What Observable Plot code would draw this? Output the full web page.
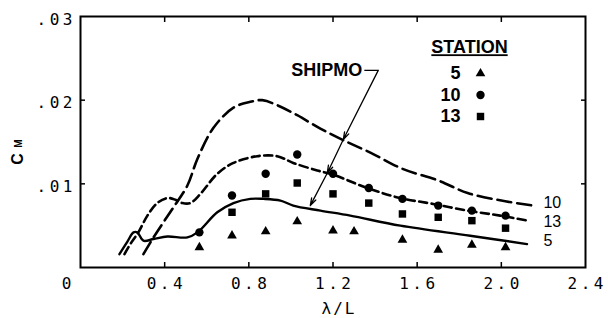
<!DOCTYPE html>
<html><head><meta charset="utf-8">
<script src="https://cdn.jsdelivr.net/npm/d3@7"></script>
<script src="https://cdn.jsdelivr.net/npm/@observablehq/plot@0.6"></script>
<style>
html,body{margin:0;padding:0;background:#fff}
#chart svg{display:block}
</style></head><body><div id="chart"></div>
<script>
// Computed (SHIPMO) curves, one per station
const lam10 = [0.299,0.347,0.394,0.442,0.508,0.556,0.632,0.727,0.807,0.864,0.935,1.03,1.14,1.25,1.38,1.53,1.70,1.84,2.00,2.15];
const cm10  = [0.0016,0.0036,0.0054,0.0072,0.0098,0.0130,0.0167,0.0191,0.0198,0.0200,0.0194,0.0182,0.0166,0.0152,0.0137,0.0118,0.0104,0.0089,0.0080,0.0074];
const lam13 = [0.209,0.242,0.275,0.318,0.365,0.413,0.451,0.484,0.522,0.570,0.650,0.727,0.840,0.935,1.011,1.125,1.20,1.363,1.52,1.676,1.838,1.994,2.127];
const cm13  = [0.0016,0.0030,0.0042,0.0062,0.0077,0.0083,0.0081,0.0077,0.0077,0.0088,0.0112,0.0125,0.0133,0.0133,0.0125,0.0116,0.0111,0.0095,0.0083,0.0076,0.0068,0.0062,0.0056];
const lam5  = [0.185,0.223,0.252,0.27,0.299,0.347,0.413,0.508,0.556,0.650,0.727,0.807,0.869,0.950,1.011,1.14,1.282,1.52,1.852,2.122];
const cm5   = [0.0016,0.0031,0.0042,0.0042,0.0032,0.0034,0.0037,0.0036,0.0042,0.0066,0.0077,0.0082,0.0082,0.0080,0.0074,0.0068,0.0062,0.0050,0.0038,0.0028];

// Measured points
const lamTri = [0.565,0.72,0.88,1.03,1.20,1.30,1.53,1.70,1.86,2.02];
const cmTri  = [0.0024,0.0038,0.0043,0.0055,0.0044,0.0043,0.0033,0.0021,0.0027,0.0024];
const lamCir = [0.565,0.72,0.88,1.03,1.20,1.37,1.53,1.70,1.86,2.02];
const cmCir  = [0.0042,0.0086,0.0112,0.0135,0.0112,0.0095,0.0082,0.0074,0.0068,0.0062];
const lamSq  = [0.72,0.88,1.03,1.20,1.37,1.53,1.70,1.86,2.02];
const cmSq   = [0.0066,0.0088,0.0101,0.0088,0.0077,0.0064,0.0060,0.0056,0.0047];

// Ticks
const xTickMarks = [0.4,0.8,1.2,1.6,2.0];
const xTickLabels = [0.4,0.8,1.2,1.6,2.0,2.4];
const yTickMarks = [0.01,0.02];
const yTickLabels = [0.01,0.02,0.03];

// Legend / labels
const legendStations = ["5","10","13"];
const legendSymbols = ["triangle","circle","square"];
const curveLabels = ["10","13","5"];
const curveLabelLam = 2.2;
const curveLabelCm = [cm10[cm10.length-1], cm13[cm13.length-1], cm5[cm5.length-1]];
const curveLabelNudge = [-3, 1, -3];

// SHIPMO annotation (data units)
const shipmoLam = [1.349, 1.415];
const shipmoCm = 0.02356;
const arrowLam = [1.415, 1.249, 1.173, 1.092];
const arrowCm  = [0.02356, 0.0153, 0.0113, 0.0074];

const pts = (L, C) => L.map((l, i) => ({lam: l, cm: C[i]}));
const c10 = pts(lam10, cm10), c13 = pts(lam13, cm13), c5 = pts(lam5, cm5);
const tri = pts(lamTri, cmTri), cir = pts(lamCir, cmCir), sq = pts(lamSq, cmSq);
const arrows = arrowLam.slice(0, -1).map((l, i) => ({x1: l, y1: arrowCm[i], x2: arrowLam[i+1], y2: arrowCm[i+1]}));

const mono = "DejaVu Sans Mono";
const sans = "Liberation Sans";
const LS = 3.5;
const yFmt = d => d3.format(".2f")(d).replace(/^0/, "");

const legendMarks = legendStations.flatMap((s, i) => [
  Plot.text([s], {text: d => d, frameAnchor: "top-left", dx: 380, dy: 57 + i * 21.5, textAnchor: "end", lineAnchor: "middle", fontFamily: sans, fontWeight: "bold", fontSize: 18}),
  Plot.dot([s], {frameAnchor: "top-left", dx: 400, dy: 57 + i * 21.5, symbol: legendSymbols[i], fill: "#000", stroke: "none", r: legendSymbols[i] === "triangle" ? 3.6 : 4.2})
]);

const curveLabelMarks = curveLabels.map((t, i) =>
  Plot.text([t], {text: d => d, x: curveLabelLam, y: curveLabelCm[i], dy: curveLabelNudge[i], textAnchor: "start", lineAnchor: "middle", fontFamily: sans, fontSize: 16})
);

const chart = Plot.plot({
  width: 608, height: 318,
  marginLeft: 80, marginRight: 23, marginTop: 16, marginBottom: 51,
  x: {domain: [0, 2.4]},
  y: {domain: [0, 0.03]},
  style: {fontFamily: sans, fontSize: "16px", color: "#000", background: "#fff"},
  marks: [
    Plot.frame({stroke: "#000", strokeWidth: 2}),
    // inward ticks
    Plot.axisX(xTickMarks, {anchor: "bottom", tickSize: -5, tickFormat: () => "", label: null, strokeWidth: 1.5}),
    Plot.axisX(xTickMarks, {anchor: "top", tickSize: -5, tickFormat: () => "", label: null, strokeWidth: 1.5}),
    Plot.axisY(yTickMarks, {anchor: "left", tickSize: -5, tickFormat: () => "", label: null, strokeWidth: 1.5}),
    Plot.axisY(yTickMarks, {anchor: "right", tickSize: -5, tickFormat: () => "", label: null, strokeWidth: 1.5}),
    // tick labels
    Plot.axisX(xTickLabels, {anchor: "bottom", tickSize: 0, tickPadding: 10, tickFormat: d3.format(".1f"), label: null, fontFamily: mono, fontSize: 16, dx: LS / 2}),
    Plot.axisX([0], {anchor: "bottom", tickSize: 0, tickPadding: 10, tickFormat: () => "0", label: null, fontFamily: mono, fontSize: 16, dx: -14 + LS / 2}),
    Plot.axisY(yTickLabels, {anchor: "left", tickSize: 0, tickPadding: 8 - LS, tickFormat: yFmt, label: null, fontFamily: mono, fontSize: 16, dy: 3}),
    // axis titles
    Plot.text(["λ/L"], {text: d => d, frameAnchor: "bottom", dx: 6, dy: 41, lineAnchor: "middle", textAnchor: "middle", fontFamily: mono, fontSize: 16}),
    Plot.text(["C"], {text: d => d, frameAnchor: "top-left", dx: -62.5, dy: 142.5, rotate: -90, textAnchor: "middle", lineAnchor: "middle", fontFamily: sans, fontWeight: "bold", fontSize: 16}),
    Plot.text(["M"], {text: d => d, frameAnchor: "top-left", dx: -61.5, dy: 127, rotate: -90, textAnchor: "middle", lineAnchor: "middle", fontFamily: sans, fontWeight: "bold", fontSize: 10}),
    // curves
    Plot.line(c10, {x: "lam", y: "cm", curve: "catmull-rom", stroke: "#000", strokeWidth: 2.6, strokeDasharray: "14,6"}),
    Plot.line(c13, {x: "lam", y: "cm", curve: "catmull-rom", stroke: "#000", strokeWidth: 2.6, strokeDasharray: "8,4.5"}),
    Plot.line(c5,  {x: "lam", y: "cm", curve: "catmull-rom", stroke: "#000", strokeWidth: 2.4}),
    // measured points
    Plot.dot(tri, {x: "lam", y: "cm", symbol: "triangle", fill: "#000", stroke: "none", r: 3.6}),
    Plot.dot(cir, {x: "lam", y: "cm", symbol: "circle", fill: "#000", stroke: "none", r: 4.2}),
    Plot.dot(sq,  {x: "lam", y: "cm", symbol: "square", fill: "#000", stroke: "none", r: 4.2}),
    // curve labels
    ...curveLabelMarks,
    // SHIPMO annotation
    Plot.text(["SHIPMO"], {text: d => d, x: shipmoLam[0], y: shipmoCm, dx: -2, textAnchor: "end", lineAnchor: "middle", fontFamily: sans, fontWeight: "bold", fontSize: 18}),
    Plot.link([0], {x1: shipmoLam[0], y1: shipmoCm, x2: shipmoLam[1], y2: shipmoCm, stroke: "#000", strokeWidth: 1.3}),
    Plot.arrow(arrows, {x1: "x1", y1: "y1", x2: "x2", y2: "y2", stroke: "#000", strokeWidth: 1.3, headLength: 9, headAngle: 35}),
    // legend
    Plot.text(["STATION"], {text: d => d, frameAnchor: "top-left", dx: 389, dy: 31, textAnchor: "middle", lineAnchor: "middle", fontFamily: sans, fontWeight: "bold", fontSize: 18}),
    ...legendMarks
  ]
});

const svg = d3.select(chart);
svg.selectAll('g[aria-label="x-axis tick label"] text, g[aria-label="y-axis tick label"] text').attr("letter-spacing", LS + "px");
svg.selectAll("text").filter(function() { return this.textContent === "λ/L"; }).attr("letter-spacing", "2px");
svg.selectAll("text").filter(function() { return this.textContent === "STATION"; })
  .style("text-decoration", "underline").style("text-decoration-thickness", "2px").style("text-underline-offset", "3px");
document.getElementById("chart").appendChild(chart);
</script>
</body></html>
